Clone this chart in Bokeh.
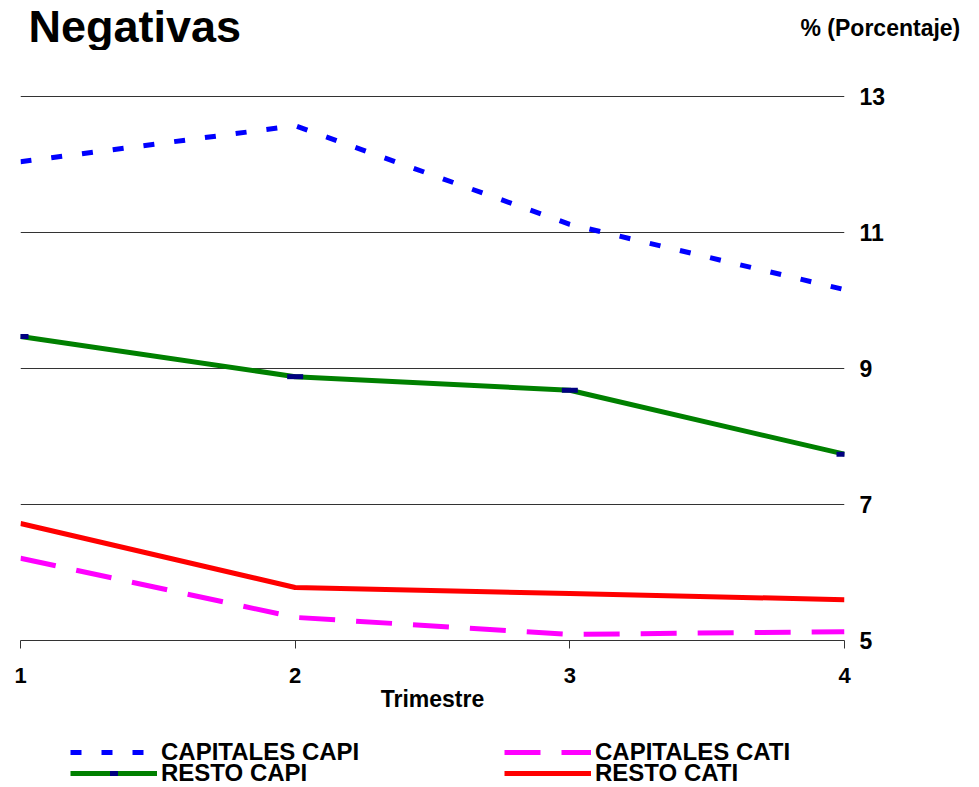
from bokeh.plotting import figure
from bokeh.models import (Range1d, LinearAxis, FixedTicker, Label, Legend, LegendItem)
from bokeh.layouts import column
from bokeh.embed import file_html
from bokeh.resources import INLINE

trimestre = [1, 2, 3, 4]
capitales_capi = [12.04, 12.57, 11.12, 10.16]
capitales_cati = [6.21, 5.34, 5.09, 5.13]
resto_capi = [9.47, 8.88, 8.68, 7.74]
resto_cati = [6.72, 5.78, 5.69, 5.60]
y_ticks = [5, 7, 9, 11, 13]
x_ticks = [1, 2, 3, 4]
series_names = ["CAPITALES CAPI", "RESTO CAPI", "CAPITALES CATI", "RESTO CATI"]
title_text = "Negativas"
unit_text = "% (Porcentaje)"
x_label = "Trimestre"

FONT = "Liberation Sans"
W = 975

def bare(fig):
    fig.outline_line_color = None
    fig.xgrid.visible = False
    fig.ygrid.visible = False
    return fig

# ---- header strip (title and unit) ----
hf = bare(figure(width=W, height=50, output_backend="svg", toolbar_location=None,
                 x_range=Range1d(0, W), y_range=Range1d(0, 50),
                 x_axis_location=None, y_axis_location=None, frame_align=False,
                 min_border_left=0, min_border_right=0, min_border_top=0, min_border_bottom=0))
hf.add_layout(Label(x=28, y=50, text=title_text, text_font=FONT, text_font_style="bold",
                    text_font_size="45px", text_baseline="top", text_align="left",
                    text_color="black"))
hf.add_layout(Label(x=800, y=23, text=unit_text, text_font=FONT, text_font_style="bold",
                    text_font_size="23px", text_baseline="middle", text_align="left",
                    text_color="black"))

# ---- main chart ----
p = bare(figure(width=W, height=675, output_backend="svg", toolbar_location=None,
                x_range=Range1d(1, 4), y_range=Range1d(5, 13 + 46 / 68),
                x_axis_location=None, y_axis_location=None,
                min_border_left=20, min_border_right=131,
                min_border_top=0, min_border_bottom=85))
p.background_fill_color = "white"

yax = LinearAxis(ticker=FixedTicker(ticks=y_ticks))
yax.axis_line_color = None
yax.major_tick_line_color = None
yax.minor_tick_line_color = None
yax.major_label_standoff = 9
yax.major_label_text_font = FONT
yax.major_label_text_font_style = "bold"
yax.major_label_text_font_size = "23px"
yax.major_label_text_color = "black"
p.add_layout(yax, "right")

p.ygrid.visible = True
p.ygrid.ticker = FixedTicker(ticks=[7, 9, 11, 13])
p.ygrid.grid_line_color = "#333333"
p.ygrid.grid_line_width = 1

xax = LinearAxis(ticker=FixedTicker(ticks=x_ticks), axis_label=x_label)
xax.axis_line_color = "#333333"
xax.axis_line_width = 1
xax.major_tick_line_color = "#333333"
xax.major_tick_out = 8
xax.major_tick_in = 0
xax.minor_tick_line_color = None
xax.major_label_standoff = 19
xax.major_label_text_font = FONT
xax.major_label_text_font_style = "bold"
xax.major_label_text_font_size = "22px"
xax.major_label_text_color = "black"
xax.axis_label_text_font = FONT
xax.axis_label_text_font_style = "bold"
xax.axis_label_text_font_size = "23px"
xax.axis_label_text_color = "black"
xax.axis_label_standoff = 0
p.add_layout(xax, "below")

styles = [
    dict(line_color="#0000FF", line_width=5, line_dash="11 20"),
    dict(line_color="#008000", line_width=5),
    dict(line_color="#FF00FF", line_width=5, line_dash="36 21"),
    dict(line_color="#FF0000", line_width=5),
]
marker_style = dict(marker="dash", size=16, line_color="#000080", line_width=5)
series = [capitales_capi, resto_capi, capitales_cati, resto_cati]

for vals, st in zip(series, styles):
    p.line(trimestre, vals, **st)
p.scatter(trimestre, resto_capi, **marker_style)

# ---- legend strip ----
lf = bare(figure(width=W, height=62, output_backend="svg", toolbar_location=None,
                 x_range=Range1d(1, 4), y_range=Range1d(100, 101),
                 x_axis_location=None, y_axis_location=None, frame_align=False,
                 min_border_left=0, min_border_right=0, min_border_top=0, min_border_bottom=0))
lr = [lf.line(trimestre, vals, **st) for vals, st in zip(series, styles)]
lm = lf.scatter(trimestre, resto_capi, **marker_style)

def make_legend(items, loc):
    lg = Legend(items=items, orientation="horizontal", location=loc)
    lg.border_line_color = None
    lg.background_fill_alpha = 0
    lg.padding = 0
    lg.margin = 0
    lg.spacing = 0
    lg.glyph_width = 87
    lg.glyph_height = 20
    lg.label_height = 20
    lg.label_width = 343
    lg.label_standoff = 4
    lg.label_text_font = FONT
    lg.label_text_font_style = "bold"
    lg.label_text_font_size = "24px"
    lg.label_text_color = "black"
    return lg

row1 = make_legend([LegendItem(label=series_names[0], renderers=[lr[0]]),
                    LegendItem(label=series_names[2], renderers=[lr[2]])], (70, 21))
row2 = make_legend([LegendItem(label=series_names[1], renderers=[lr[1], lm]),
                    LegendItem(label=series_names[3], renderers=[lr[3]])], (70, 0))
lf.add_layout(row1, "center")
lf.add_layout(row2, "center")

layout = column(hf, p, lf, spacing=0)
open("out.html", "w").write(file_html(layout, INLINE))
